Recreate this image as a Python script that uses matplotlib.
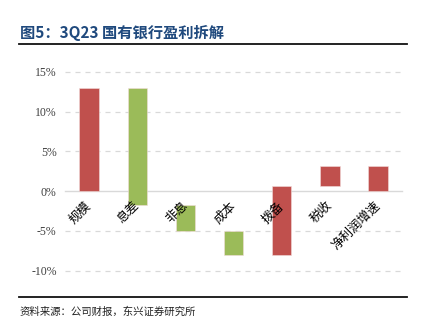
import numpy as np
import matplotlib
matplotlib.use("Agg")
import matplotlib.pyplot as plt
from matplotlib.ticker import FuncFormatter

plt.rcParams['font.family'] = ['Noto Sans CJK SC', 'DejaVu Sans']
plt.rcParams['axes.unicode_minus'] = True

# waterfall data, % contribution to net profit growth
categories = ['规模', '息差', '非息', '成本', '拨备', '税收', '净利润增速']
changes = [12.9, -14.7, -3.2, -3.0, 8.7, 2.4]
total = 3.1
yticks = [-10, -5, 0, 5, 10, 15]

red = '#C0504D'
green = '#9BBB59'

# build floating bars from the changes
level = np.concatenate([[0], np.cumsum(changes)])
bottoms = list(np.minimum(level[:-1], level[1:])) + [0]
heights = list(np.abs(changes)) + [total]
colors = [red if c > 0 else green for c in changes] + [red]

fig = plt.figure(figsize=(4.22, 3.28), dpi=100)
ax = fig.add_axes([0.154, 0.1625, 0.799, 0.631])
ax.set_axisbelow(False)  # labels drawn over the bars, like the original

x = np.arange(len(categories))
ax.bar(x, heights, bottom=bottoms, width=0.4, color=colors,
       edgecolor='#F2DCDB', linewidth=0.4, zorder=2)

ax.set_xlim(-0.5, len(categories) - 0.5)
ax.set_ylim(-10.5, 15.5)
ax.set_yticks(yticks)
ax.yaxis.set_major_formatter(FuncFormatter(lambda v, p: f'{int(v)}%'))
for lab in ax.get_yticklabels():
    lab.set_fontfamily(['Liberation Serif', 'DejaVu Serif'])
    lab.set_fontsize(8.5)
    lab.set_color('#404040')

for yv in yticks:
    if yv != 0:
        ax.axhline(yv, color='#D9D9D9', linewidth=0.9, linestyle=(0, (4, 4)), zorder=1)

for s in ['top', 'right', 'left']:
    ax.spines[s].set_visible(False)
ax.spines['bottom'].set_position(('data', 0))
ax.spines['bottom'].set_color('#D9D9D9')
ax.spines['bottom'].set_linewidth(1.0)
ax.spines['bottom'].set_zorder(1.5)

ax.set_xticks(x)
ax.set_xticklabels(categories, rotation=45, ha='right', va='center',
                   rotation_mode='anchor', fontsize=9)
ax.tick_params(axis='x', length=0, pad=9)
ax.tick_params(axis='y', length=0, pad=6)

fig.text(0.047, 0.899, '图5：3Q23 国有银行盈利拆解', fontsize=11, fontweight='bold',
         color='#1F497D', va='center', ha='left')
fig.add_artist(plt.Line2D([0.045, 0.964], [0.865, 0.865], color='#111111', linewidth=1.3))
fig.add_artist(plt.Line2D([0.045, 0.964], [0.0954, 0.0954], color='#111111', linewidth=1.3))
fig.text(0.047, 0.0497, '资料来源：公司财报，东兴证券研究所', fontsize=7.5,
         color='#222222', va='center', ha='left')

fig.savefig('out.png', dpi=100)
